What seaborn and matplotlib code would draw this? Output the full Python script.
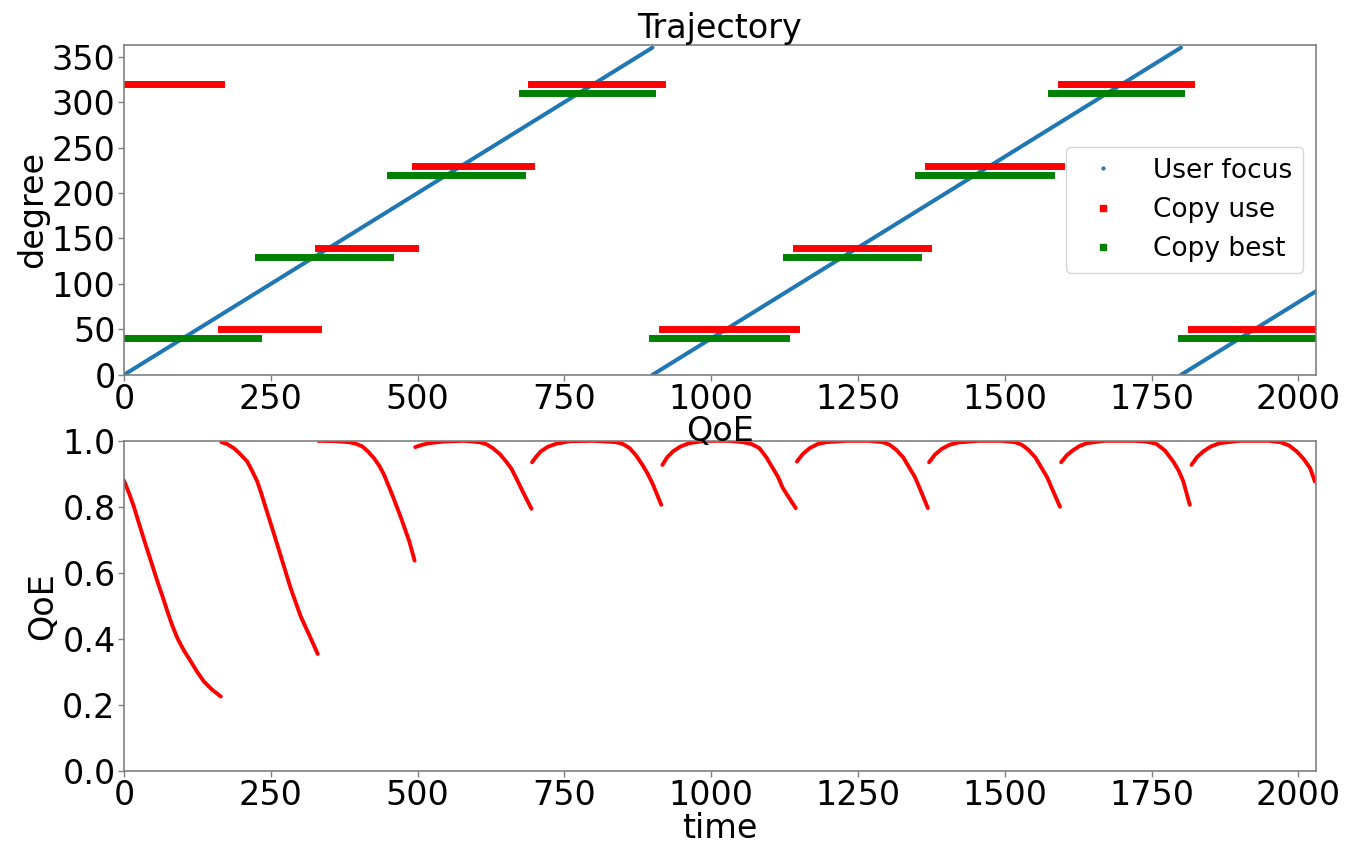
import numpy as np
import pandas as pd
import matplotlib
matplotlib.use("Agg")
import matplotlib.pyplot as plt
from matplotlib.lines import Line2D
import seaborn as sns

# ── DATA ───────────────────────────────────────────────
# user focus: straight runs (start/end points), wraps at 360
focus_seg = [0, 0, 1, 1, 2, 2]
focus_time = [0, 900, 900, 1800, 1800, 2030]
focus_deg = [0, 360, 0, 360, 0, 92]

# copy in use: switch times and level held in each interval
use_edges = [0, 165, 330, 495, 694, 916, 1144, 1369, 1595, 1817, 2030]
use_deg = [320, 50, 140, 230, 320, 50, 140, 230, 320, 50]

# best copy
best_edges = [0, 228, 453, 678, 900, 1128, 1353, 1578, 1800, 2030]
best_deg = [40, 130, 220, 310, 40, 130, 220, 310, 40]

# QoE
qoe_time = [0, 9, 17, 27, 37, 47, 57, 66, 74, 82, 91, 102, 114, 125, 136, 150, 165,
            166, 176, 187, 198, 210, 218, 227, 234, 241, 256, 270, 284, 301, 318, 330,
            331, 360, 383, 395, 406, 416, 426, 435, 443, 457, 472, 486, 495,
            496, 508, 520, 545, 580, 605, 617, 628, 640, 651, 660, 668, 682, 694,
            695, 702, 710, 722, 736, 760, 800, 838, 850, 861, 872, 883, 892, 901, 915,
            917, 925, 935, 948, 963, 990, 1030, 1054, 1069, 1082, 1094, 1105, 1114, 1122, 1144,
            1146, 1156, 1168, 1181, 1196, 1230, 1270, 1292, 1304, 1315, 1327, 1338, 1347, 1355, 1369,
            1371, 1381, 1393, 1406, 1421, 1455, 1495, 1517, 1529, 1540, 1552, 1563, 1572, 1580, 1594,
            1596, 1605, 1615, 1627, 1640, 1670, 1720, 1740, 1758, 1773, 1787, 1796, 1804, 1815,
            1818, 1827, 1838, 1851, 1866, 1900, 1950, 1969, 1984, 1997, 2009, 2020, 2028]
qoe_value = [0.88, 0.84, 0.80, 0.742, 0.685, 0.63, 0.574, 0.527, 0.483, 0.442, 0.402, 0.365, 0.331, 0.299, 0.271, 0.246, 0.225,
             0.996, 0.99, 0.978, 0.96, 0.937, 0.91, 0.877, 0.84, 0.80, 0.715, 0.634, 0.553, 0.468, 0.402, 0.354,
             1.0, 0.999, 0.996, 0.991, 0.983, 0.967, 0.947, 0.924, 0.897, 0.836, 0.766, 0.695, 0.637,
             0.981, 0.988, 0.993, 0.998, 1.0, 0.996, 0.99, 0.978, 0.96, 0.937, 0.915, 0.887, 0.836, 0.794,
             0.935, 0.952, 0.968, 0.982, 0.991, 0.999, 1.0, 0.996, 0.99, 0.978, 0.956, 0.927, 0.90, 0.867, 0.806,
             0.927, 0.95, 0.968, 0.983, 0.993, 1.0, 1.0, 0.996, 0.99, 0.978, 0.95, 0.917, 0.89, 0.857, 0.796,
             0.937, 0.96, 0.978, 0.99, 0.996, 1.0, 1.0, 0.996, 0.988, 0.973, 0.95, 0.917, 0.89, 0.857, 0.796,
             0.935, 0.958, 0.976, 0.988, 0.995, 1.0, 1.0, 0.996, 0.988, 0.973, 0.95, 0.917, 0.89, 0.857, 0.80,
             0.935, 0.955, 0.970, 0.984, 0.993, 1.0, 1.0, 0.998, 0.991, 0.97, 0.937, 0.91, 0.877, 0.806,
             0.927, 0.95, 0.968, 0.983, 0.993, 1.0, 1.0, 0.996, 0.986, 0.968, 0.945, 0.917, 0.877]


def step_frame(edges, levels):
    rows = []
    for i, lvl in enumerate(levels):
        rows.append((i, edges[i], lvl))
        rows.append((i, edges[i + 1], lvl))
    return pd.DataFrame(rows, columns=["seg", "time", "degree"])


focus_df = pd.DataFrame({"seg": focus_seg, "time": focus_time, "degree": focus_deg})
use_df = step_frame(use_edges, use_deg)
best_df = step_frame(best_edges, best_deg)
qoe_df = pd.DataFrame({"time": qoe_time, "QoE": qoe_value})
qoe_df["seg"] = np.searchsorted(use_edges[1:-1], qoe_df["time"], side="left")

# ── PLOT ───────────────────────────────────────────────
sns.set_style("white")
plt.rcParams["font.family"] = ["DejaVu Sans"]
plt.rcParams["text.color"] = "black"
plt.rcParams["axes.labelcolor"] = "black"
plt.rcParams["axes.edgecolor"] = "#808080"
plt.rcParams["xtick.color"] = "#808080"
plt.rcParams["ytick.color"] = "#808080"
plt.rcParams["xtick.labelcolor"] = "black"
plt.rcParams["ytick.labelcolor"] = "black"

fig, (ax1, ax2) = plt.subplots(2, 1, figsize=(13.47, 8.47), dpi=100)
fs = 24

sns.lineplot(data=focus_df, x="time", y="degree", units="seg", estimator=None,
             color="#1f77b4", lw=2.9, ax=ax1, legend=False)
sns.lineplot(data=best_df, x="time", y="degree", units="seg", estimator=None,
             color="green", lw=5, solid_capstyle="projecting", ax=ax1, legend=False)
sns.lineplot(data=use_df, x="time", y="degree", units="seg", estimator=None,
             color="red", lw=5, solid_capstyle="projecting", ax=ax1, legend=False)

ax1.set_xlim(0, 2030)
ax1.set_ylim(0, 363)
ax1.set_xticks(np.arange(0, 2001, 250))
ax1.set_yticks(np.arange(0, 351, 50))
ax1.set_title("Trajectory", fontsize=fs, pad=5)
ax1.set_xlabel("")
ax1.set_ylabel("degree", fontsize=fs, labelpad=2)

handles = [
    Line2D([], [], ls="", marker=".", ms=4, color="#1f77b4"),
    Line2D([], [], ls="", marker="s", ms=4, color="red"),
    Line2D([], [], ls="", marker="s", ms=4, color="green"),
]
ax1.legend(handles, ["User focus", "Copy use", "Copy best"], loc="center right",
           fontsize=19, handletextpad=0.9)

sns.lineplot(data=qoe_df, x="time", y="QoE", units="seg", estimator=None,
             color="red", lw=2.8, ax=ax2, legend=False)
ax2.set_xlim(0, 2030)
ax2.set_ylim(0, 1)
ax2.set_xticks(np.arange(0, 2001, 250))
ax2.set_yticks(np.arange(0, 1.01, 0.2))
ax2.set_title("QoE", fontsize=fs, pad=0)
ax2.set_xlabel("time", fontsize=fs, labelpad=0)
ax2.set_ylabel("QoE", fontsize=fs, labelpad=2)

for ax in (ax1, ax2):
    ax.tick_params(axis="both", labelsize=fs, length=4, width=1, direction="out",
                   bottom=True, left=True, pad=2)
    for sp in ax.spines.values():
        sp.set_linewidth(1.2)

plt.subplots_adjust(left=0.092, right=0.977, top=0.947, bottom=0.090, hspace=0.2)
plt.savefig("out.png", dpi=100)
